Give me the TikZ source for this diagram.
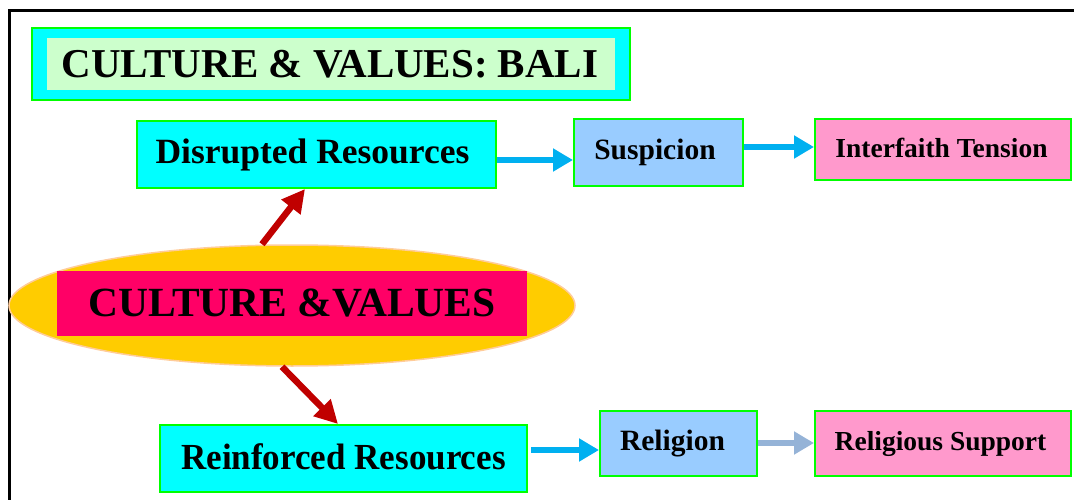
\documentclass[tikz,border=0pt]{standalone}
\usepackage{fontspec}
\setmainfont{Liberation Serif}
\usetikzlibrary{arrows.meta,shapes.geometric}
\definecolor{frameblack}{HTML}{000000}
\definecolor{boxgreen}{HTML}{00FF00}
\definecolor{boxcyan}{HTML}{00FFFF}
\definecolor{palegreen}{HTML}{CCFFCC}
\definecolor{skyblue}{HTML}{99CCFF}
\definecolor{pinkbox}{HTML}{FF99CC}
\definecolor{goldfill}{HTML}{FFCC00}
\definecolor{goldedge}{HTML}{FFCC99}
\definecolor{magentabox}{HTML}{FF0066}
\definecolor{arrowblue}{HTML}{00B0F0}
\definecolor{arrowgrey}{HTML}{95B3D7}
\definecolor{arrowred}{HTML}{C00000}
\tikzset{
  box/.style={draw=boxgreen, line width=2pt, rectangle, inner sep=0pt, font=\bfseries},
  flow/.style={line width=6pt, -{Triangle[length=20pt,width=22pt]}},
  rise/.style={line width=6.5pt, arrowred, -{Triangle[length=23pt,width=23pt]}}
}
\newcommand{\fs}[1]{\fontsize{#1}{#1}\selectfont}
\begin{document}
\begin{tikzpicture}[x=1pt,y=-1pt]
\useasboundingbox (0,0) rectangle (1074,500);
% outer frame
\draw[frameblack, line width=3pt] (9,520) -- (9,11) -- (1090,11);

% title
\node[box, fill=boxcyan, minimum width=598pt, minimum height=72pt] (titleouter) at (331,64) {};
\node[rectangle, fill=palegreen, inner sep=0pt, minimum width=568pt, minimum height=52pt, font=\bfseries\fs{41}] (title) at (331,64) {\hspace*{-2pt}\raisebox{1pt}{CULTURE \& VALUES: BALI}};

% central ellipse
\node[ellipse, draw=goldedge, line width=1.5pt, fill=goldfill, minimum width=566pt, minimum height=121pt, inner sep=0pt] (ell) at (292,305.5) {};
\node[rectangle, fill=magentabox, inner sep=0pt, minimum width=470pt, minimum height=65pt, font=\bfseries\fs{41.5}] (cv) at (292,303.5) {CULTURE \&VALUES};

% upper chain
\node[box, fill=boxcyan, minimum width=359pt, minimum height=67pt, font=\bfseries\fs{35.5}] (dr) at (316.5,154.5) {\hspace*{-8pt}\raisebox{3pt}{Disrupted Resources}};
\node[box, fill=skyblue, minimum width=169pt, minimum height=67pt, font=\bfseries\fs{29.5}] (su) at (658.5,152.5) {\hspace*{-7pt}\raisebox{5pt}{Suspicion}};
\node[box, fill=pinkbox, minimum width=256pt, minimum height=61pt, font=\bfseries\fs{27.5}] (it) at (943,149.5) {\hspace*{-3pt}\raisebox{3pt}{Interfaith Tension}};

% lower chain
\node[box, fill=boxcyan, minimum width=367pt, minimum height=67pt, font=\bfseries\fs{35}] (rr) at (343.5,458.5) {\raisebox{3pt}{\scalebox{1}[1.05]{Reinforced Resources}}};
\node[box, fill=skyblue, minimum width=157pt, minimum height=65pt, font=\bfseries\fs{29.5}] (rl) at (678.5,443.5) {\hspace*{-12pt}\raisebox{3pt}{Religion}};
\node[box, fill=pinkbox, minimum width=256pt, minimum height=65pt, font=\bfseries\fs{27.5}] (rs) at (943,443.5) {\hspace*{-5pt}\raisebox{3pt}{Religious Support}};

% red arrows out of the ellipse
\draw[rise] ([xshift=-30pt]ell.north) -- ([xshift=-11.5pt]dr.south);
\draw[rise] ([xshift=-10pt]ell.south) -- ([xshift=-5.5pt]rr.north);

% horizontal flow arrows
\coordinate (a1) at ([yshift=-5.5pt]dr.east);
\draw[flow, arrowblue] (a1) -- (a1 -| su.west);
\coordinate (a2) at ([yshift=5.5pt]su.east);
\draw[flow, arrowblue] (a2) -- (a2 -| it.west);
\coordinate (a3) at ([xshift=3pt,yshift=8.5pt]rr.east);
\draw[flow, arrowblue] (a3) -- (a3 -| rl.west);
\coordinate (a4) at ([yshift=0.5pt]rl.east);
\draw[flow, arrowgrey] (a4) -- (a4 -| rs.west);
\end{tikzpicture}
\end{document}
